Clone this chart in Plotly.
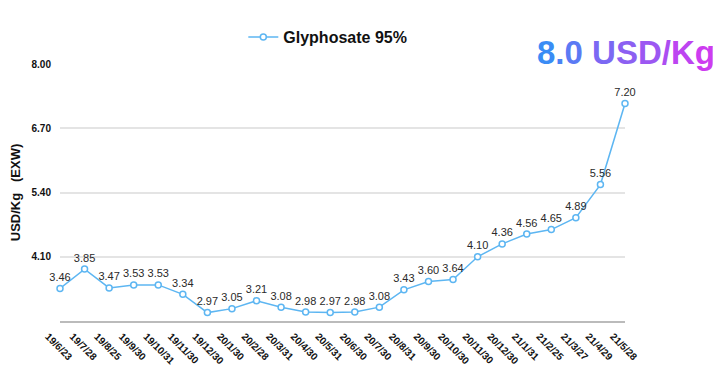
import plotly.graph_objects as go

dates = ["19/6/23", "19/7/28", "19/8/25", "19/9/30", "19/10/31", "19/11/30", "19/12/30",
         "20/1/30", "20/2/28", "20/3/31", "20/4/30", "20/5/31", "20/6/30", "20/7/30",
         "20/8/31", "20/9/30", "20/10/30", "20/11/30", "20/12/30", "21/1/31", "21/2/25",
         "21/3/27", "21/4/29", "21/5/28"]
prices = [3.46, 3.85, 3.47, 3.53, 3.53, 3.34, 2.97, 3.05, 3.21, 3.08, 2.98, 2.97, 2.98,
          3.08, 3.43, 3.60, 3.64, 4.10, 4.36, 4.56, 4.65, 4.89, 5.56, 7.20]
y_ticks = [4.10, 5.40, 6.70, 8.00]
series_name = "Glyphosate 95%"
badge_text = "8.0 USD/Kg"

FONT = "Liberation Sans, Arial, Helvetica, sans-serif"
LINE = "#5db6f2"

fig = go.Figure()
fig.add_trace(go.Scatter(
    x=list(range(len(dates))), y=prices, name=f"<b>{series_name}</b>",
    mode="lines+markers+text",
    line=dict(color=LINE, width=1.5),
    marker=dict(symbol="circle", size=6, color="white", line=dict(color=LINE, width=1.5)),
    text=[f"{v:.2f}" for v in prices], textposition="top center",
    textfont=dict(size=11, color="#2a2a2a", family=FONT),
    cliponaxis=False,
))

# gradient-coloured badge text built char by char
def lerp(c1, c2, t):
    return "#%02x%02x%02x" % tuple(round(a + (b - a) * t) for a, b in zip(c1, c2))
c_start, c_end = (58, 140, 245), (205, 60, 240)
n = len(badge_text)
badge = "".join(
    f'<span style="color:{lerp(c_start, c_end, i / (n - 1))}">{ch}</span>'
    for i, ch in enumerate(badge_text)
)
fig.add_annotation(text=f"<b>{badge}</b>", xref="paper", yref="paper",
                   x=1.163, y=1.045, xanchor="right", yanchor="middle",
                   showarrow=False, font=dict(size=33, family=FONT))

fig.update_layout(
    width=721, height=389,
    margin=dict(l=52, r=104, t=47, b=76),
    paper_bgcolor="white", plot_bgcolor="white",
    font=dict(family=FONT, color="#111111"),
    showlegend=True,
    legend=dict(orientation="h", x=0.474, xanchor="center", y=1.105, yanchor="middle",
                font=dict(size=16, family=FONT, color="#111111"),
                itemwidth=30),
    xaxis=dict(range=[0, len(dates) - 1], tickmode="array", automargin=False,
               tickvals=list(range(len(dates))), ticktext=[f"<b>{d}</b>" for d in dates],
               tickangle=45, tickfont=dict(size=10, color="#111111"),
               ticklabelshift=-12, ticklabelstandoff=4,
               showgrid=False, zeroline=False, showline=True, linecolor="#bbbbbb",
               linewidth=1.5, ticks=""),
    yaxis=dict(range=[2.8, 8.0], tickmode="array", tickvals=y_ticks, automargin=False,
               ticktext=[f"<b>{v:.2f}</b>" for v in y_ticks],
               tickfont=dict(size=10, color="#111111"),
               showgrid=True, gridcolor="#e4e4e4", gridwidth=1.5, zeroline=False,
               showline=False, ticks="", ticklabelstandoff=8,
               title=dict(text="<b>USD/Kg\u00a0\u00a0\u00a0(EXW)</b>",
                          font=dict(size=13, color="#111111"), standoff=13)),
)
fig.write_html("out.html")
